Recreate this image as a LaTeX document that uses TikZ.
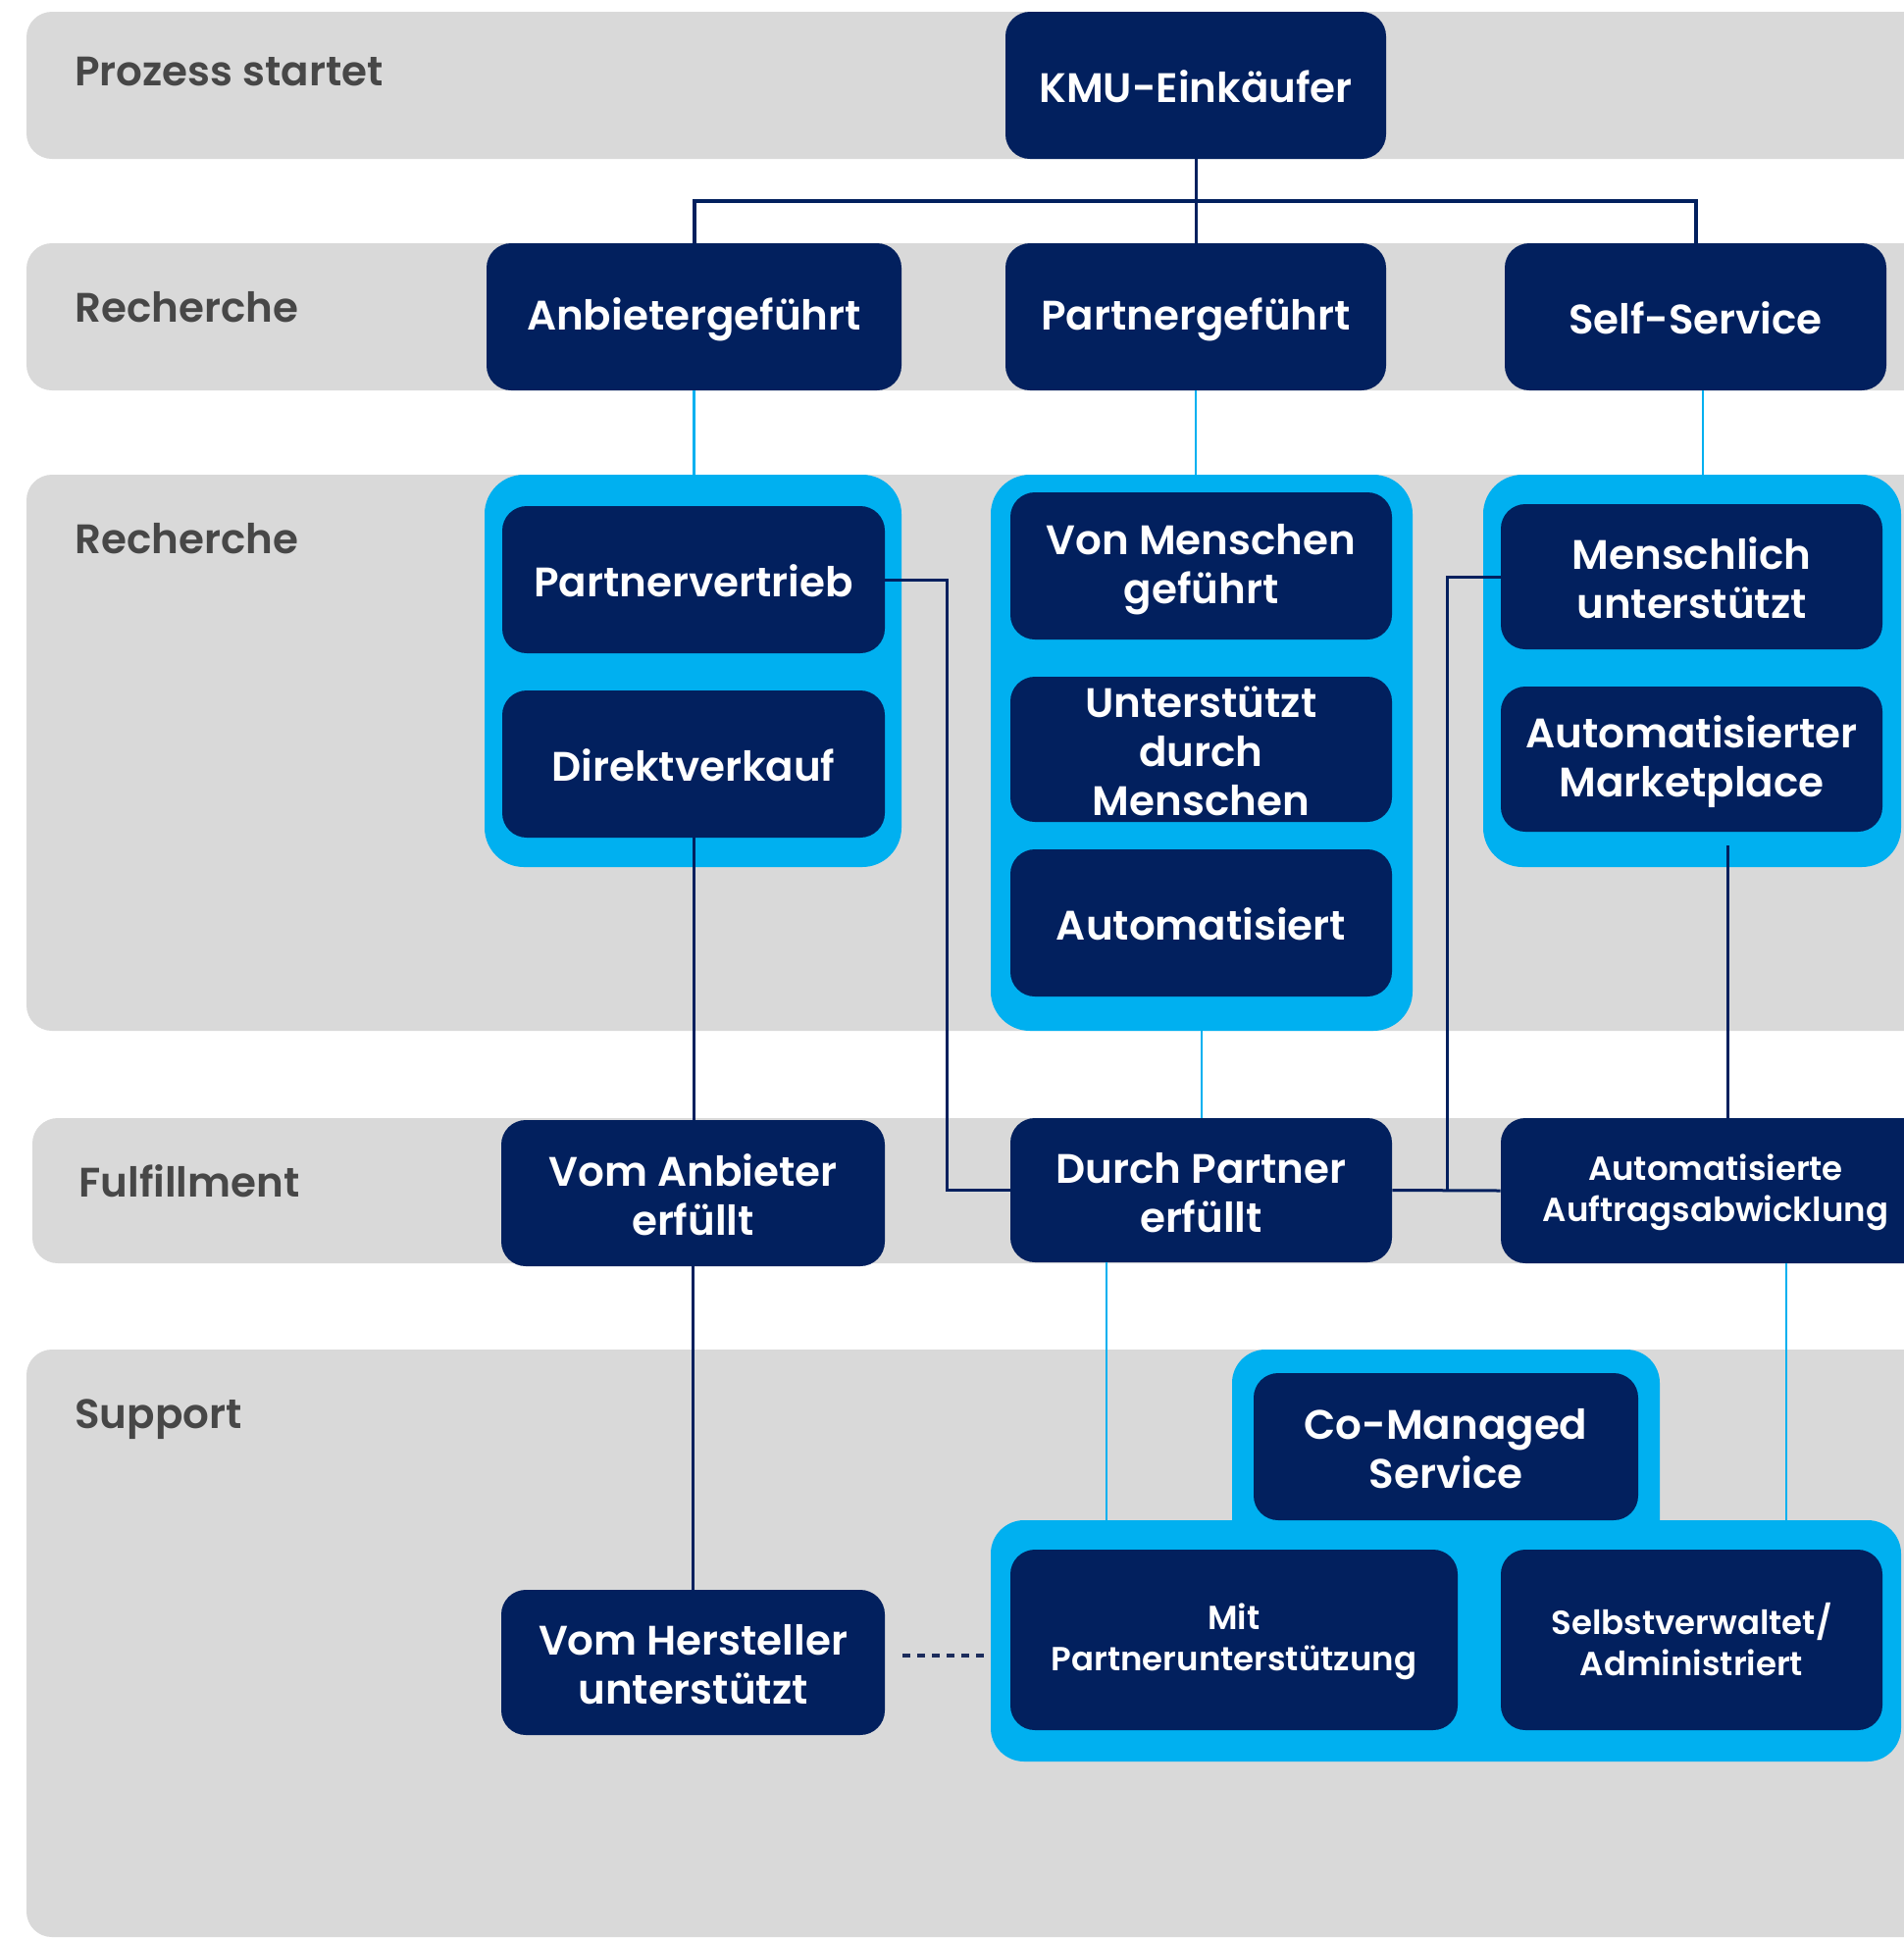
\documentclass[tikz,border=0pt]{standalone}
\usepackage{fontspec}
\newfontfamily\popsb{Poppins SemiBold}

\definecolor{navy}{HTML}{02205E}
\definecolor{sky}{HTML}{00B0F0}
\definecolor{lane}{HTML}{D9D9D9}
\definecolor{labelgrey}{HTML}{474747}
\definecolor{dashnavy}{HTML}{1C2C5C}

% strut that centres capital letters in a box
\newcommand\capstrut{\rule[-0.05em]{0pt}{0.95em}}

\tikzset{
  navybox/.style={fill=navy, rounded corners=12.5pt, inner sep=0pt, text=white,
    align=center, font=\popsb\fontsize{21}{25}\selectfont},
  smalltext/.style={font=\popsb\fontsize{17}{21}\selectfont},
  skygroup/.style={fill=sky, rounded corners=20pt, inner sep=0pt},
  skygroupsmall/.style={fill=sky, rounded corners=17pt, inner sep=0pt},
  lanelabel/.style={anchor=base west, text=labelgrey, inner sep=0pt,
    font=\popsb\fontsize{21}{25}\selectfont},
  navyline/.style={draw=navy, line width=1.5pt},
  hubline/.style={draw=navy, line width=2pt},
  skyline/.style={draw=sky, line width=1.25pt},
  dashline/.style={draw=dashnavy, line width=1.7pt, dash pattern=on 4pt off 3.5pt},
}

% style, name, x1, y1, x2, y2, text  (coordinates in px, y downwards)
\newcommand\placebox[7]{%
  \pgfmathsetmacro\bxw{(#5-#3)/2}%
  \pgfmathsetmacro\bxh{(#6-#4)/2}%
  \node[#1, minimum width=\bxw pt, minimum height=\bxh pt] (#2)
    at ({(#3+#5)/2},{(#4+#6)/2}) {\capstrut#7\capstrut};}

\begin{document}
\begin{tikzpicture}[x=0.5pt, y=-0.5pt]
  \useasboundingbox (0,0) rectangle (1941,1977);
  \fill[white] (0,0) rectangle (1941,1977);

  % swim lanes
  \fill[lane, rounded corners=13pt] (27,12) rectangle (1990,162);
  \fill[lane, rounded corners=13pt] (27,248) rectangle (1990,398);
  \fill[lane, rounded corners=13pt] (27,484) rectangle (1990,1051);
  \fill[lane, rounded corners=13pt] (33,1140) rectangle (1990,1288);
  \fill[lane, rounded corners=13pt] (27,1376) rectangle (1990,1975);

  \node[lanelabel] (l1) at (76,87) {Prozess startet};
  \node[lanelabel] (l2) at (76,328) {Recherche};
  \node[lanelabel] (l3) at (76,564) {Recherche};
  \node[lanelabel] (l4) at (80,1220) {Fulfillment};
  \node[lanelabel] (l5) at (76,1456) {Support};

  % light blue groups
  \placebox{skygroup}{g1}{494}{484}{919}{884}{}
  \placebox{skygroup}{g2}{1010}{484}{1440}{1051}{}
  \placebox{skygroup}{g3}{1512}{484}{1938}{884}{}
  \placebox{skygroupsmall}{cmg}{1256}{1376}{1692}{1620}{}
  \placebox{skygroupsmall}{lc}{1010}{1550}{1938}{1796}{}

  % boxes
  \placebox{navybox}{kmu}{1025}{12}{1413}{162}{KMU-Einkäufer}
  \placebox{navybox}{anb}{496}{248}{919}{398}{Anbietergeführt}
  \placebox{navybox}{pg}{1025}{248}{1413}{398}{Partnergeführt}
  \placebox{navybox}{ss}{1534}{248}{1923}{398}{Self-Service}

  \placebox{navybox}{pv}{512}{516}{902}{666}{Partnervertrieb}
  \placebox{navybox}{dv}{512}{704}{902}{854}{Direktverkauf}

  \placebox{navybox}{vmg}{1030}{502}{1419}{652}{Von Menschen\\geführt}
  \placebox{navybox}{udm}{1030}{690}{1419}{838}{Unterstützt\\durch\\Menschen}
  \placebox{navybox}{aut}{1030}{866}{1419}{1016}{Automatisiert}

  \placebox{navybox}{ms}{1530}{514}{1919}{662}{Menschlich\\unterstützt}
  \placebox{navybox}{am}{1530}{700}{1919}{848}{Automatisierter\\Marketplace}

  \placebox{navybox}{va}{511}{1142}{902}{1291}{Vom Anbieter\\erfüllt}
  \placebox{navybox}{dp}{1030}{1140}{1419}{1287}{Durch Partner\\erfüllt}
  \placebox{navybox, smalltext}{aa}{1530}{1140}{1968}{1288}{Automatisierte\\Auftragsabwicklung}

  \placebox{navybox}{cms}{1278}{1400}{1670}{1550}{Co-Managed\\Service}
  \placebox{navybox, smalltext}{mpu}{1030}{1580}{1486}{1764}{Mit\\Partnerunterstützung}
  \placebox{navybox, smalltext}{sva}{1530}{1580}{1919}{1764}{Selbstverwaltet/\\Administriert}
  \placebox{navybox}{vh}{511}{1621}{902}{1769}{Vom Hersteller\\unterstützt}

  % branch from the buyer to the three research paths
  \coordinate (hub) at (kmu.south |- 0,205);
  \draw[navyline] (kmu.south) -- (hub);
  \draw[hubline] (anb.north) |- (hub) -| (ss.north);
  \draw[navyline] (hub) -- (hub -| pg.north) -- (pg.north);

  % research paths into their groups
  \coordinate (ssfoot) at (1736,398);
  \draw[skyline] (anb.south) -- (anb.south |- g1.north);
  \draw[skyline] (pg.south) -- (pg.south |- g2.north);
  \draw[skyline] (ssfoot) -- (ssfoot |- g3.north);

  % research to fulfillment
  \coordinate (join) at (1475,1213);
  \coordinate (amfoot) at (1761,862);
  \draw[navyline] (dv.south) -- (dv.south |- va.north);
  \draw[navyline] (pv.east) -- ++(63,0) |- (dp.west);
  \draw[navyline] (ms.west) -| (join);
  \draw[navyline] (dp.east) -- (aa.west);
  \draw[navyline] (amfoot) -- (amfoot |- aa.north);
  \draw[skyline] (g2.south) -- (g2.south |- dp.north);

  % fulfillment to support
  \coordinate (dpfoot) at (1128,1287);
  \coordinate (aafoot) at (1821,1288);
  \coordinate (dashstart) at (920,1688);
  \draw[navyline] (va.south) -- (va.south |- vh.north);
  \draw[skyline] (dpfoot) -- (dpfoot |- lc.north);
  \draw[skyline] (aafoot) -- (aafoot |- lc.north);
  \draw[dashline] (dashstart) -- (dashstart -| lc.west);
\end{tikzpicture}
\end{document}
